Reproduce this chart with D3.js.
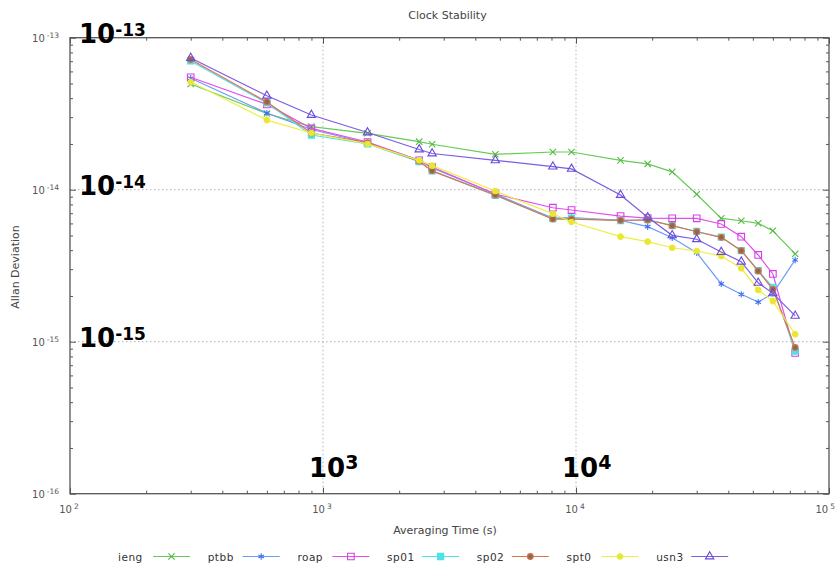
<!DOCTYPE html>
<html><head><meta charset="utf-8">
<script src="https://cdn.jsdelivr.net/npm/d3@7/dist/d3.min.js"></script>
<style>body{margin:0;background:#fff}svg{display:block}text{font-family:"DejaVu Sans",Verdana,sans-serif}</style>
</head><body><svg id="chart" width="836" height="565"></svg>
<script>
// ---- data ----
const tau = [300, 600, 900, 1500, 2400, 2700, 4800, 8100, 9600, 15000, 19200, 24000, 30000, 37500, 45000, 52500, 60000, 73500];
const seriesNames = ["ieng", "ptbb", "roap", "sp01", "sp02", "spt0", "usn3"];
const ieng = [49.6e-15, 31.7e-15, 26.0e-15, 23.5e-15, 20.7e-15, 19.9e-15, 17.1e-15, 17.7e-15, 17.7e-15, 15.6e-15, 14.8e-15, 13.1e-15, 9.33e-15, 6.48e-15, 6.25e-15, 6.01e-15, 5.37e-15, 3.78e-15];
const ptbb = [54.1e-15, 31.9e-15, 24.9e-15, 20.3e-15, 15.7e-15, 13.9e-15, 9.37e-15, 6.51e-15, 6.56e-15, 6.29e-15, 5.71e-15, 4.83e-15, 3.85e-15, 2.40e-15, 2.05e-15, 1.82e-15, 2.08e-15, 3.45e-15];
const roap = [54.9e-15, 36.4e-15, 25.3e-15, 20.6e-15, 15.6e-15, 14.1e-15, 9.37e-15, 7.61e-15, 7.35e-15, 6.71e-15, 6.51e-15, 6.48e-15, 6.48e-15, 5.95e-15, 4.91e-15, 3.72e-15, 2.79e-15, 0.843e-15];
const sp01 = [70.3e-15, 37.2e-15, 22.9e-15, 20.0e-15, 15.3e-15, 13.3e-15, 9.16e-15, 6.46e-15, 6.51e-15, 6.27e-15, 6.36e-15, 5.81e-15, 5.31e-15, 4.88e-15, 3.98e-15, 2.94e-15, 2.28e-15, 0.868e-15];
const sp02 = [71.9e-15, 37.8e-15, 23.6e-15, 20.4e-15, 15.4e-15, 13.3e-15, 9.23e-15, 6.41e-15, 6.41e-15, 6.29e-15, 6.32e-15, 5.80e-15, 5.29e-15, 4.86e-15, 3.97e-15, 2.92e-15, 2.21e-15, 0.916e-15];
const spt0 = [51.1e-15, 28.7e-15, 23.6e-15, 20.0e-15, 15.6e-15, 14.4e-15, 9.80e-15, 6.95e-15, 6.13e-15, 4.91e-15, 4.55e-15, 4.15e-15, 3.95e-15, 3.66e-15, 3.04e-15, 2.19e-15, 1.85e-15, 1.12e-15];
const usn3 = [73.5e-15, 41.5e-15, 31.0e-15, 23.8e-15, 18.4e-15, 17.3e-15, 15.6e-15, 14.2e-15, 13.7e-15, 9.23e-15, 6.58e-15, 5.01e-15, 4.72e-15, 3.89e-15, 3.36e-15, 2.44e-15, 2.08e-15, 1.48e-15];
const xMajorExp = [2, 3, 4, 5];
const yMajorExp = [-16, -15, -14, -13];
const bigYLabels = [-13, -14, -15];
const bigXLabels = [3, 4];

// ---- styles ----
const styles = [
  {line: "#66cc55", stroke: "#55bb44", fill: "none", sym: d3.symbolX, size: 28},
  {line: "#6f9cf7", stroke: "#3f6ff0", fill: "none", sym: d3.symbolAsterisk, size: 28},
  {line: "#e24ef0", stroke: "#d83ee8", fill: "none", sym: d3.symbolSquare, size: 44},
  {line: "#4de3e6", stroke: "#4de3e6", fill: "#4de3e6", sym: d3.symbolSquare, size: 38},
  {line: "#df7050", stroke: "#d8704e", fill: "#8c6a48", sym: d3.symbolCircle, size: 26},
  {line: "#eeee40", stroke: "#e8e830", fill: "#e8e830", sym: d3.symbolCircle, size: 24},
  {line: "#7b5ce3", stroke: "#6a4bd8", fill: "none", sym: d3.symbolTriangle, size: 30}
];
const seriesVals = [ieng, ptbb, roap, sp01, sp02, spt0, usn3];

const svg = d3.select("#chart");
const L = 70, R = 829, T = 37.7, B = 493.7;
const x = d3.scaleLog().domain([1e2, 1e5]).range([L, R]);
const y = d3.scaleLog().domain([1e-16, 1e-13]).range([B, T]);

const xMaj = xMajorExp.map(e => Math.pow(10, e));
const yMaj = yMajorExp.map(e => Math.pow(10, e));
const xMin = [], yMin = [];
xMajorExp.slice(0, -1).forEach(e => { for (let k = 2; k <= 9; k++) xMin.push(k * Math.pow(10, e)); });
yMajorExp.slice(0, -1).forEach(e => { for (let k = 2; k <= 9; k++) yMin.push(k * Math.pow(10, e)); });

// grid
const grid = svg.append("g").attr("stroke", "#b0b0b0").attr("stroke-width", 1).attr("stroke-dasharray", "1.5,2.5");
xMaj.slice(1, -1).forEach(v => grid.append("line").attr("x1", x(v)).attr("x2", x(v)).attr("y1", T).attr("y2", B));
yMaj.slice(1, -1).forEach(v => grid.append("line").attr("y1", y(v)).attr("y2", y(v)).attr("x1", L).attr("x2", R));

// axes (ticks inward, mirrored)
function styleAxis(g) { g.select(".domain").remove(); g.selectAll("line").attr("stroke", "#555"); g.selectAll("text").remove(); }
const defs = [
  [d3.axisBottom(x), `translate(0,${B})`, xMaj, xMin],
  [d3.axisTop(x), `translate(0,${T})`, xMaj, xMin],
  [d3.axisLeft(y), `translate(${L},0)`, yMaj, yMin],
  [d3.axisRight(y), `translate(${R},0)`, yMaj, yMin]
];
defs.forEach(([ax, tr, maj, min]) => {
  svg.append("g").attr("transform", tr).call(ax.tickValues(maj).tickSizeInner(-6).tickSizeOuter(0).tickFormat("")).call(styleAxis);
  svg.append("g").attr("transform", tr).call(ax.tickValues(min).tickSizeInner(-3).tickSizeOuter(0).tickFormat("")).call(styleAxis);
});
svg.append("rect").attr("x", L).attr("y", T).attr("width", R - L).attr("height", B - T)
  .attr("fill", "none").attr("stroke", "#555").attr("stroke-width", 1.3);

// tick labels
xMajorExp.forEach((e, i) => {
  const last = i === xMajorExp.length - 1;
  const t = svg.append("text").attr("x", last ? 835 : x(Math.pow(10, e)) - 1).attr("y", 513)
    .attr("text-anchor", last ? "end" : "middle")
    .attr("fill", "#555").attr("font-size", 10);
  t.append("tspan").text("10");
  t.append("tspan").attr("dx", 2).attr("dy", -4).attr("font-size", 7.5).text(e);
});
yMajorExp.forEach(e => {
  const t = svg.append("text").attr("x", 59).attr("y", y(Math.pow(10, e)) + 3.8).attr("text-anchor", "end")
    .attr("fill", "#555").attr("font-size", 10);
  t.append("tspan").text("10");
  t.append("tspan").attr("dx", 2).attr("dy", -4).attr("font-size", 7.5).text(e);
});

// titles
svg.append("text").attr("x", 447.5).attr("y", 19).attr("text-anchor", "middle").attr("font-size", 11).attr("fill", "#444").text("Clock Stability");
svg.append("text").attr("x", 445).attr("y", 534).attr("text-anchor", "middle").attr("font-size", 11).attr("fill", "#444").text("Averaging Time (s)");
svg.append("text").attr("transform", "translate(19,267) rotate(-90)").attr("text-anchor", "middle").attr("font-size", 11).attr("fill", "#444").text("Allan Deviation");

// series
const lineGen = d3.line().x(d => x(d[0])).y(d => y(d[1]));
seriesNames.forEach((name, i) => {
  const st = styles[i];
  const pts = tau.map((t, j) => [t, seriesVals[i][j]]);
  const g = svg.append("g");
  g.append("path").datum(pts).attr("d", lineGen).attr("fill", "none").attr("stroke", st.line).attr("stroke-width", 1.2);
  g.selectAll("path.m").data(pts).join("path").attr("class", "m")
    .attr("transform", d => `translate(${x(d[0])},${y(d[1])})`)
    .attr("d", d3.symbol(st.sym, st.size))
    .attr("fill", st.fill).attr("stroke", st.stroke).attr("stroke-width", 1.1);
});

// legend
seriesNames.forEach((name, i) => {
  const st = styles[i];
  const x0 = 118 + i * 89.7;
  svg.append("text").attr("x", x0).attr("y", 561).attr("font-size", 10.5).attr("fill", "#333").attr("letter-spacing", 0.5).text(name);
  svg.append("line").attr("x1", x0 + 35).attr("x2", x0 + 72).attr("y1", 556.5).attr("y2", 556.5).attr("stroke", st.line).attr("stroke-width", 1.2);
  svg.append("path").attr("transform", `translate(${x0 + 53.5},556.5)`).attr("d", d3.symbol(st.sym, st.size))
    .attr("fill", st.fill).attr("stroke", st.stroke).attr("stroke-width", 1.1);
});

// big overlay labels
bigYLabels.forEach(e => {
  const t = svg.append("text").attr("x", 79).attr("y", y(Math.pow(10, e)) + 5.5)
    .attr("font-weight", "bold").attr("font-size", 26).attr("fill", "#000");
  t.append("tspan").text("10");
  t.append("tspan").attr("dy", -7.5).attr("font-size", 17).text(String(e));
});
bigXLabels.forEach(e => {
  const t = svg.append("text").attr("x", x(Math.pow(10, e)) - 14).attr("y", 477)
    .attr("font-weight", "bold").attr("font-size", 26).attr("fill", "#000");
  t.append("tspan").text("10");
  t.append("tspan").attr("dy", -8).attr("font-size", 19).text(e);
});
</script></body></html>
